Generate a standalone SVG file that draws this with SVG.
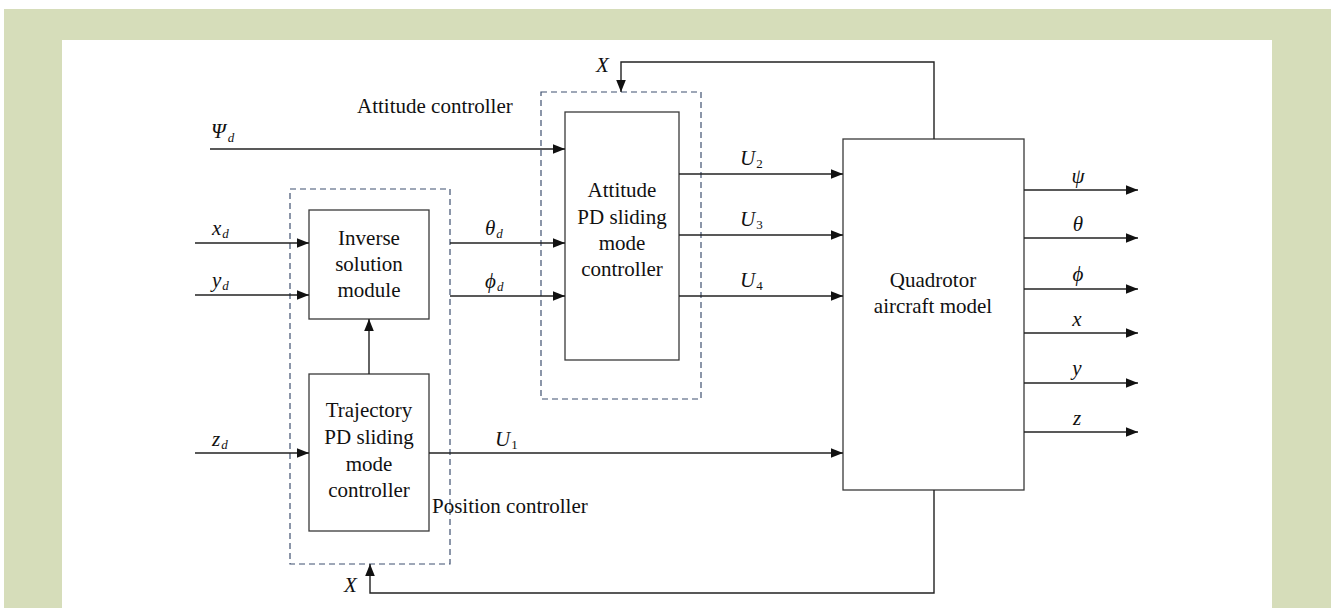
<svg xmlns="http://www.w3.org/2000/svg" width="1335" height="608" viewBox="0 0 1335 608">
<defs>
<style>
.bg{fill:#d6ddba}
.blk{fill:#fff;stroke:#3a3a3a;stroke-width:1.3}
.dash{fill:none;stroke:#3f5070;stroke-width:1.2;stroke-dasharray:6 4}
.ln{fill:none;stroke:#222;stroke-width:1.4}
.t{font-family:"Liberation Serif","Times New Roman",serif;font-size:21px;fill:#111}
.m{font-family:"Liberation Serif","Times New Roman",serif;font-size:21px;font-style:italic;fill:#111}
.s{font-size:13px}
.c{text-anchor:middle}
</style>
<marker id="ah" viewBox="0 0 10 8" refX="10" refY="4" markerWidth="12" markerHeight="10" markerUnits="userSpaceOnUse" orient="auto">
<path d="M0,0 L10,4 L0,8 Z" fill="#111"/>
</marker>
</defs>
<rect x="0" y="0" width="1335" height="608" fill="#fff"/>
<rect class="bg" x="4" y="9" width="1327" height="599"/>
<rect x="62" y="40" width="1210" height="568" fill="#fff"/>

<g id="attitude-group">
<rect class="dash" x="541" y="92" width="160" height="307"/>
<text class="t" x="357" y="113">Attitude controller</text>
</g>
<g id="position-group">
<rect class="dash" x="290" y="189" width="160" height="375"/>
<text class="t" x="432" y="513">Position controller</text>
</g>

<g id="inverse">
<rect class="blk" x="309" y="210" width="120" height="109"/>
<text class="t c" x="369" y="245">Inverse</text>
<text class="t c" x="369" y="271">solution</text>
<text class="t c" x="369" y="297">module</text>
</g>
<g id="trajectory">
<rect class="blk" x="309" y="374" width="120" height="157"/>
<text class="t c" x="369" y="417">Trajectory</text>
<text class="t c" x="369" y="444">PD sliding</text>
<text class="t c" x="369" y="471">mode</text>
<text class="t c" x="369" y="497">controller</text>
</g>
<g id="attitude">
<rect class="blk" x="565" y="112" width="114" height="248"/>
<text class="t c" x="622" y="197">Attitude</text>
<text class="t c" x="622" y="224">PD sliding</text>
<text class="t c" x="622" y="250">mode</text>
<text class="t c" x="622" y="276">controller</text>
</g>
<g id="quadrotor">
<rect class="blk" x="843" y="139" width="181" height="351"/>
<text class="t c" x="933" y="287">Quadrotor</text>
<text class="t c" x="933" y="313">aircraft model</text>
</g>

<g id="connectors">
<path class="ln" d="M210,149 H565" marker-end="url(#ah)"/>
<path class="ln" d="M195,243 H309" marker-end="url(#ah)"/>
<path class="ln" d="M195,295 H309" marker-end="url(#ah)"/>
<path class="ln" d="M195,453 H309" marker-end="url(#ah)"/>
<path class="ln" d="M450,243 H565" marker-end="url(#ah)"/>
<path class="ln" d="M450,296 H565" marker-end="url(#ah)"/>
<path class="ln" d="M369,374 V319" marker-end="url(#ah)"/>
<path class="ln" d="M429,453 H843" marker-end="url(#ah)"/>
<path class="ln" d="M679,174 H843" marker-end="url(#ah)"/>
<path class="ln" d="M679,235 H843" marker-end="url(#ah)"/>
<path class="ln" d="M679,296 H843" marker-end="url(#ah)"/>
<path class="ln" d="M1024,190 H1138" marker-end="url(#ah)"/>
<path class="ln" d="M1024,238 H1138" marker-end="url(#ah)"/>
<path class="ln" d="M1024,289 H1138" marker-end="url(#ah)"/>
<path class="ln" d="M1024,333 H1138" marker-end="url(#ah)"/>
<path class="ln" d="M1024,383 H1138" marker-end="url(#ah)"/>
<path class="ln" d="M1024,432 H1138" marker-end="url(#ah)"/>
<path class="ln" d="M934,139 V62 H621 V92" marker-end="url(#ah)"/>
<path class="ln" d="M934,490 V593 H370 V564" marker-end="url(#ah)"/>
</g>

<g id="labels">
<text class="m" x="211" y="138">Ψ<tspan class="s" dx="2" dy="4">d</tspan></text>
<text class="m" x="212" y="235">x<tspan class="s" dx="1" dy="3">d</tspan></text>
<text class="m" x="212" y="287">y<tspan class="s" dx="1" dy="3">d</tspan></text>
<text class="m" x="212" y="446">z<tspan class="s" dx="1" dy="3">d</tspan></text>
<text class="m" x="485" y="235">θ<tspan class="s" dx="1" dy="3">d</tspan></text>
<text class="m" x="485" y="288">ϕ<tspan class="s" dx="1" dy="3">d</tspan></text>
<text class="m" x="495" y="446">U<tspan class="s" font-style="normal" dx="1" dy="3">1</tspan></text>
<text class="m" x="740" y="165">U<tspan class="s" font-style="normal" dx="1" dy="3">2</tspan></text>
<text class="m" x="740" y="226">U<tspan class="s" font-style="normal" dx="1" dy="3">3</tspan></text>
<text class="m" x="740" y="287">U<tspan class="s" font-style="normal" dx="1" dy="3">4</tspan></text>
<text class="m c" x="1078" y="183">ψ</text>
<text class="m c" x="1078" y="231">θ</text>
<text class="m c" x="1078" y="281">ϕ</text>
<text class="m c" x="1077" y="326">x</text>
<text class="m c" x="1077" y="375">y</text>
<text class="m c" x="1077" y="425">z</text>
<text class="m" x="596" y="72">X</text>
<text class="m" x="344" y="592">X</text>
</g>
</svg>
